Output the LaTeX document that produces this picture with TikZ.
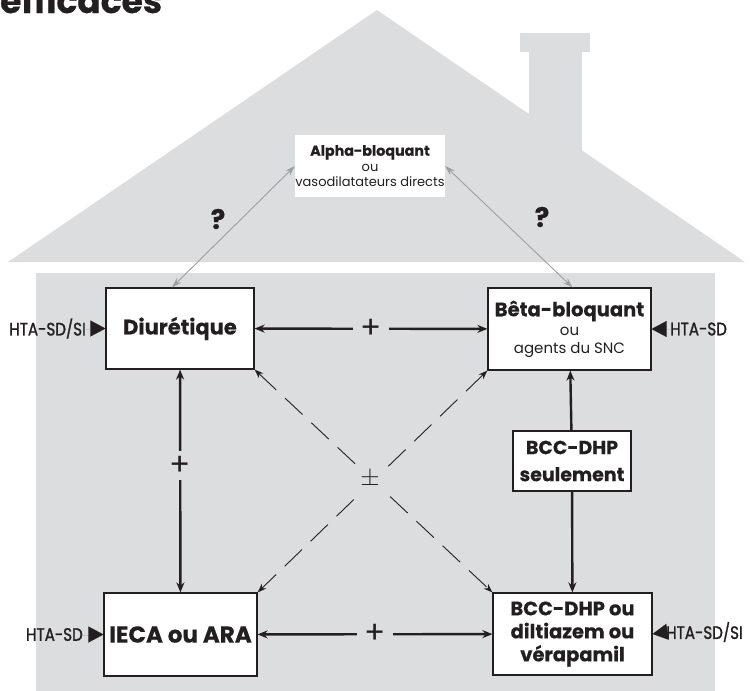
\documentclass[tikz,border=0pt]{standalone}
\usepackage{fontspec}
\setmainfont{Poppins}[BoldFeatures={FakeBold=0.5}]
\newfontfamily\condfont[FakeStretch=0.84, FakeBold=1.2]{Poppins}
\usetikzlibrary{arrows.meta}
\definecolor{house}{RGB}{220,221,223}
\definecolor{ink}{RGB}{35,31,32}
\definecolor{pale}{RGB}{158,159,161}

\tikzset{
  blacktip/.tip={Stealth[length=10pt,width=8pt]},
  drugbox/.style={draw=ink, line width=1.2pt, fill=white, text=ink, align=center, inner sep=0pt},
  plain/.style={text=ink, inner sep=0pt},
  solidarr/.style={draw=ink, line width=2.4pt, {blacktip}-{blacktip}},
  onewayarr/.style={draw=ink, line width=2.4pt, -{blacktip}},
  dasharr/.style={draw=ink, line width=0.9pt, dash pattern=on 24pt off 12pt,
    {Stealth[length=9pt,width=6.5pt]}-{Stealth[length=9pt,width=6.5pt]}},
  palearr/.style={draw=pale, line width=0.9pt, {Stealth[length=10pt,width=6.5pt]}-{Stealth[length=10pt,width=6.5pt]}},
  htalabel/.style={text=ink, inner sep=0pt, font=\condfont\fontsize{18}{18}\selectfont},
  htatip/.style={draw=ink, line width=0.01pt, -{Triangle[length=15pt,width=16pt]}},
  sign/.style={text=ink, fill=house, font=\fontsize{31}{31}\selectfont}
}

\begin{document}
\begin{tikzpicture}[x=1pt, y=-1pt]
\useasboundingbox (0,0) rectangle (750,691);
\clip (0,0) rectangle (750,691);

% title fragment at the top edge
\node[plain, anchor=base west, font=\bfseries\fontsize{34.5}{34.5}\selectfont] (title) at (0,13) {efficaces};

% house: roof, chimney and body
\fill[house] (8,262) -- (377,10) -- (745,262) -- cycle;
\fill[house] (520,33) rectangle (590,52);
\fill[house] (529,52) rectangle (582,200);
\fill[house] (36,273) rectangle (715,691);

% drug classes
\node[drugbox, minimum width=148pt, minimum height=81pt, font=\bfseries\fontsize{21}{21}\selectfont]
  (diur) at (180,328.5) {Diurétique};
\node[drugbox, minimum width=163pt, minimum height=82pt, font=\fontsize{15}{18}\selectfont]
  (beta) at (569.5,329) {{\bfseries\fontsize{19.5}{19.5}\selectfont Bêta-bloquant}\\[1pt] ou\\ agents du SNC};
\node[drugbox, minimum width=153pt, minimum height=83pt, font=\bfseries\fontsize{23}{23}\selectfont]
  (ieca) at (180.5,634.5) {IECA ou ARA};
\node[drugbox, minimum width=159pt, minimum height=82pt, font=\bfseries\fontsize{19.5}{23}\selectfont]
  (bcc) at (572.5,634) {BCC-DHP ou\\ diltiazem ou\\ vérapamil};
\node[drugbox, draw=none, minimum width=136pt, minimum height=62pt, font=\fontsize{13}{15}\selectfont]
  (alpha) at (370,166) {{\bfseries\fontsize{14.3}{14.3}\selectfont Alpha-bloquant}\\[1pt] ou\\ vasodilatateurs directs};

% combinations
\draw[solidarr] (diur) -- node[sign, pos=0.5, inner xsep=7pt, inner ysep=0pt] (p1) {+} (beta);
\draw[solidarr] (diur) -- node[sign, pos=0.43, inner xsep=0pt, inner ysep=5pt] (p2) {+} (ieca);
\draw[solidarr] (ieca) -- node[sign, pos=0.5, inner xsep=7pt, inner ysep=0pt] (p3) {+} (bcc);
\draw[dasharr] (diur.south east) -- (bcc.north west);
\draw[dasharr] (beta.south west) -- (ieca.north east);
\node[sign, inner sep=6pt, font=\fontsize{25}{25}\selectfont] (pm) at (370,479) {$\pm$};
\draw[palearr] (alpha.west) -- ([xshift=-8pt]diur.north);
\draw[palearr] (alpha.east) -- ([xshift=3pt]beta.north);
\node[plain, font=\bfseries\fontsize{27}{27}\selectfont] (q1) at (218,219) {?};
\node[plain, font=\bfseries\fontsize{27}{27}\selectfont] (q2) at (542,217) {?};

% calcium channel blocker restriction
\node[drugbox, line width=2.4pt, minimum width=118pt, minimum height=60pt, font=\bfseries\fontsize{19}{27}\selectfont]
  (seul) at (572,461) {BCC-DHP\\ seulement};
\draw[onewayarr] (seul) -- (beta);
\draw[onewayarr] (seul) -- (bcc);

% indications
\node[htalabel, anchor=east] (h1) at (86,328.5) {HTA-SD/SI};
\draw[htatip] (h1.east) -- (diur.west);
\node[htalabel, anchor=west] (h2) at (670,329) {HTA-SD};
\draw[htatip] (h2.west) -- (beta.east);
\node[htalabel, anchor=east] (h3) at (83,634.5) {HTA-SD};
\draw[htatip] (h3.east) -- (ieca.west);
\node[htalabel, anchor=west] (h4) at (666,632) {HTA-SD/SI};
\draw[htatip] (h4.west) -- (bcc.east);
\end{tikzpicture}
\end{document}
